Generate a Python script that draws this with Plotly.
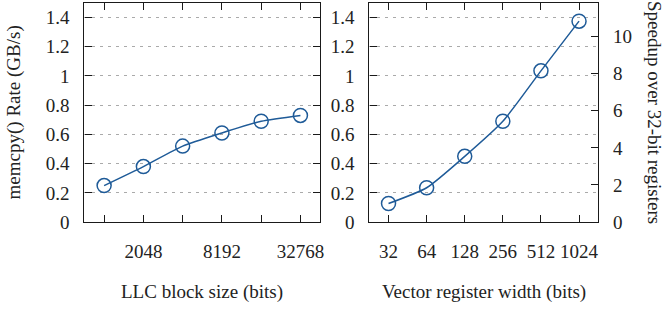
import plotly.graph_objects as go
import math

# Data
llc_block_bits = [1024, 2048, 4096, 8192, 16384, 32768]
llc_rate_gbs = [0.25, 0.38, 0.52, 0.61, 0.69, 0.73]
llc_tick_text = ["", "2048", "", "8192", "", "32768"]

vec_width_bits = [32, 64, 128, 256, 512, 1024]
vec_rate_gbs = [0.127, 0.235, 0.45, 0.69, 1.035, 1.375]
vec_tick_text = ["32", "64", "128", "256", "512", "1024"]

rate_ticks = [0, 0.2, 0.4, 0.6, 0.8, 1.0, 1.2, 1.4]
rate_tick_text = ["0", "0.2", "0.4", "0.6", "0.8", "1", "1.2", "1.4"]
speedup_ticks = [0, 2, 4, 6, 8, 10]
rate_max = 1.5

speedup = [v / vec_rate_gbs[0] for v in vec_rate_gbs]

BLUE = "#1f5b98"
FONT = "Liberation Serif"
FS = 19
AX = "#1a1a1a"

fig = go.Figure()
marker = dict(symbol="circle-open", size=14, color=BLUE, line=dict(width=1.5, color=BLUE))
fig.add_trace(go.Scatter(x=llc_block_bits, y=llc_rate_gbs, mode="lines+markers",
                         line=dict(color=BLUE, width=1.5, shape="spline", smoothing=0.6),
                         marker=marker, xaxis="x", yaxis="y", showlegend=False))
fig.add_trace(go.Scatter(x=vec_width_bits, y=vec_rate_gbs, mode="lines+markers",
                         line=dict(color=BLUE, width=1.5, shape="spline", smoothing=0.6),
                         marker=marker, xaxis="x2", yaxis="y3", showlegend=False))
fig.add_trace(go.Scatter(x=vec_width_bits, y=speedup, mode="markers",
                         marker=dict(opacity=0), hoverinfo="skip",
                         xaxis="x2", yaxis="y4", showlegend=False))

ydom = [(320 - 230) / 320, (320 - 3) / 320]
x1dom = [85 / 668, 322 / 668]
x2dom = [371.7 / 668, 601.7 / 668]

def lg(v):
    return math.log10(v)

half = 0.5 * math.log10(2)
common_axis = dict(showline=True, linecolor=AX, linewidth=1.3, ticks="inside",
                   ticklen=7, tickwidth=1.2, tickcolor=AX,
                   tickfont=dict(family=FONT, size=FS, color="#222"), zeroline=False)

fig.update_layout(
    width=668, height=320, margin=dict(l=0, r=0, t=0, b=0),
    plot_bgcolor="white", paper_bgcolor="white",
    xaxis=dict(domain=x1dom, type="log", anchor="y",
               range=[lg(llc_block_bits[0]) - half, lg(llc_block_bits[-1]) + half],
               tickvals=llc_block_bits, ticktext=llc_tick_text, mirror="ticks",
               showgrid=False, ticklabelstandoff=12, **common_axis),
    yaxis=dict(domain=ydom, range=[0, rate_max], anchor="x",
               tickvals=rate_ticks, ticktext=rate_tick_text, mirror="ticks",
               showgrid=True, gridcolor="#aaaaaa", gridwidth=1, griddash="3px,5px",
               ticklabelstandoff=10, **common_axis),
    xaxis2=dict(domain=x2dom, type="log", anchor="y3",
                range=[lg(vec_width_bits[0]) - half, lg(vec_width_bits[-1]) + half],
                tickvals=vec_width_bits, ticktext=vec_tick_text, mirror="ticks",
                showgrid=False, ticklabelstandoff=12, **common_axis),
    yaxis3=dict(domain=ydom, range=[0, rate_max], anchor="x2",
                tickvals=rate_ticks, ticktext=rate_tick_text, mirror=True,
                showgrid=True, gridcolor="#aaaaaa", gridwidth=1, griddash="3px,5px",
                ticklabelstandoff=10, **common_axis),
    yaxis4=dict(domain=ydom, range=[0, rate_max / vec_rate_gbs[0]], anchor="x2",
                overlaying="y3", side="right", tickvals=speedup_ticks,
                showgrid=False, ticklabelstandoff=10, **common_axis),
)

ann_font = dict(family=FONT, size=FS, color="#222")
fig.add_annotation(text="memcpy() Rate (GB/s)", x=15 / 668, y=(320 - 116.5) / 320,
                   xref="paper", yref="paper", textangle=-90, showarrow=False,
                   font=ann_font, xanchor="center", yanchor="middle")
fig.add_annotation(text="LLC block size (bits)", x=203 / 668, y=(320 - 302) / 320,
                   xref="paper", yref="paper", showarrow=False,
                   font=ann_font, xanchor="center", yanchor="middle")
fig.add_annotation(text="Vector register width (bits)", x=486.5 / 668, y=(320 - 302) / 320,
                   xref="paper", yref="paper", showarrow=False,
                   font=ann_font, xanchor="center", yanchor="middle")
fig.add_annotation(text="Speedup over 32-bit registers", x=659 / 668, y=(320 - 116) / 320,
                   xref="paper", yref="paper", textangle=90, showarrow=False,
                   font=ann_font, xanchor="center", yanchor="middle")

fig.write_html("out.html")
